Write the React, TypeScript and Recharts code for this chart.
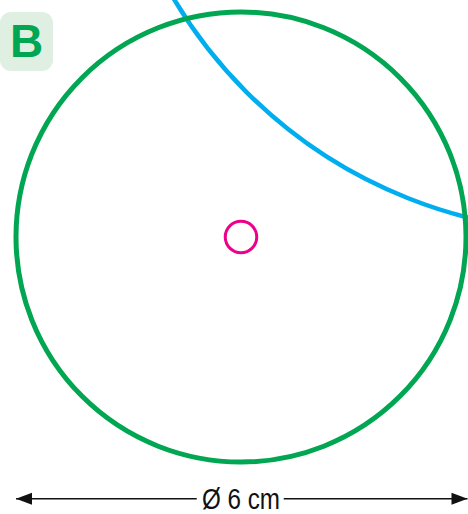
import { ScatterChart, Scatter, XAxis, YAxis, ReferenceDot, ReferenceLine } from 'recharts'

// everything is in cm, circle centre at the origin
const CHART_W = 468
const CHART_H = 514
const X_DOMAIN = [-3.2133, 3.0267]
const Y_DOMAIN = [-3.6933, 3.16]
const PX_PER_CM = CHART_W / (X_DOMAIN[1] - X_DOMAIN[0])

const CIRCLE_CENTER = { x: 0, y: 0 }
const CIRCLE_DIAMETER = 6
const CENTER_MARK_RADIUS = 0.21

// arc of the neighbouring circle, centre lies off the picture (top right)
const ARC_CENTER = { x: 4.57, y: 6.43 }
const ARC_RADIUS = 6.36

const DIM_Y = -3.49
const DIM_ENDS = [-3.0, 3.02]
const DIM_GAP = [-0.59, 0.57]
const DIM_LABEL = 'Ø 6 cm'

const arrowHeads = [
  { x: DIM_ENDS[0], y: DIM_Y, dir: -1 },
  { x: DIM_ENDS[1], y: DIM_Y, dir: 1 },
]

const GREEN = '#00a651'
const BLUE = '#00aeef'
const MAGENTA = '#ec008c'

const ArrowHead = (props: any) => {
  const { cx, cy, payload } = props
  const d = payload.dir
  const pts = `${cx},${cy} ${cx - d * 16},${cy - 6} ${cx - d * 16},${cy + 6}`
  return <polygon points={pts} fill="#111" />
}

// no narrow font installed, so squeeze the label to the original width
const DimLabel = (props: any) => (
  <text
    x={props.cx}
    y={props.cy + 10}
    textAnchor="middle"
    fontFamily="'Liberation Sans', Arial, sans-serif"
    fontSize={29}
    textLength={78}
    lengthAdjust="spacingAndGlyphs"
    fill="#111"
  >
    {DIM_LABEL}
  </text>
)

export default function App() {
  return (
    <div style={{ position: 'fixed', left: 0, top: 0, width: CHART_W, height: CHART_H, background: '#fff' }}>
      <ScatterChart width={CHART_W} height={CHART_H} margin={{ top: 0, right: 0, bottom: 0, left: 0 }}>
        <XAxis type="number" dataKey="x" domain={X_DOMAIN} allowDataOverflow hide />
        <YAxis type="number" dataKey="y" domain={Y_DOMAIN} allowDataOverflow hide />
        <ReferenceDot
          x={ARC_CENTER.x}
          y={ARC_CENTER.y}
          r={ARC_RADIUS * PX_PER_CM}
          fill="none"
          stroke={BLUE}
          strokeWidth={4.5}
          ifOverflow="visible"
        />
        <ReferenceDot
          x={CIRCLE_CENTER.x}
          y={CIRCLE_CENTER.y}
          r={(CIRCLE_DIAMETER / 2) * PX_PER_CM}
          fill="none"
          stroke={GREEN}
          strokeWidth={5}
          ifOverflow="visible"
        />
        <ReferenceDot
          x={CIRCLE_CENTER.x}
          y={CIRCLE_CENTER.y}
          r={CENTER_MARK_RADIUS * PX_PER_CM}
          fill="none"
          stroke={MAGENTA}
          strokeWidth={3}
        />
        <ReferenceLine
          segment={[{ x: DIM_ENDS[0], y: DIM_Y }, { x: DIM_GAP[0], y: DIM_Y }]}
          stroke="#111"
          strokeWidth={1.5}
          ifOverflow="visible"
        />
        <ReferenceLine
          segment={[{ x: DIM_GAP[1], y: DIM_Y }, { x: DIM_ENDS[1], y: DIM_Y }]}
          stroke="#111"
          strokeWidth={1.5}
          ifOverflow="visible"
        />
        <ReferenceDot x={0} y={DIM_Y} r={0} shape={DimLabel} />
        <Scatter data={arrowHeads} shape={ArrowHead} isAnimationActive={false} />
      </ScatterChart>
      <div
        style={{
          position: 'absolute',
          left: 0,
          top: 12,
          width: 53,
          height: 59,
          borderRadius: 11,
          background: '#dff0e3',
          color: GREEN,
          fontFamily: "'Liberation Sans', Arial, sans-serif",
          fontWeight: 'bold',
          fontSize: 46,
          lineHeight: '59px',
          textAlign: 'center',
        }}
      >
        B
      </div>
    </div>
  )
}
